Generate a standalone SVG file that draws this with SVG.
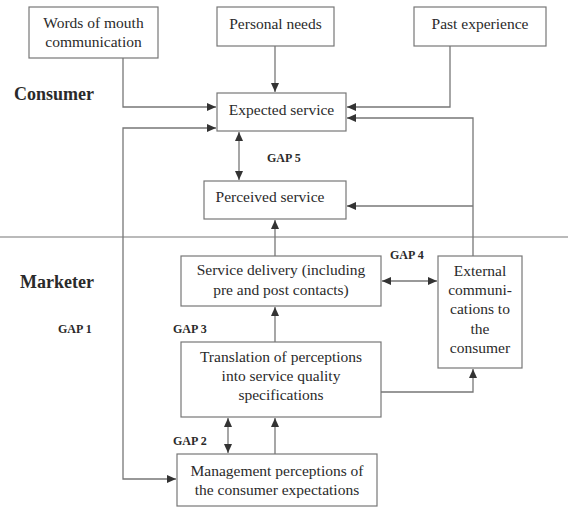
<svg xmlns="http://www.w3.org/2000/svg" width="568" height="514" viewBox="0 0 568 514">
<style>
.box{fill:#fff;stroke:#777;stroke-width:1.2}
.t{font-family:"Liberation Serif","Times New Roman",serif;font-size:15.5px;fill:#2a2a2a;text-anchor:middle}
.h{font-family:"Liberation Serif","Times New Roman",serif;font-size:18px;font-weight:bold;fill:#2a2a2a}
.g{font-family:"Liberation Serif","Times New Roman",serif;font-size:12px;font-weight:bold;fill:#2a2a2a}
.c{fill:none;stroke:#777;stroke-width:1.3}
</style>
<defs>
<marker id="ah" markerUnits="userSpaceOnUse" markerWidth="10" markerHeight="10" refX="9" refY="4" orient="auto-start-reverse"><path d="M0,0 L9,4 L0,8 z" fill="#333"/></marker>
</defs>
<rect width="568" height="514" fill="#fff"/>
<line x1="0" y1="237" x2="568" y2="237" stroke="#777" stroke-width="1.2"/>
<text class="h" x="14" y="100">Consumer</text>
<text class="h" x="20" y="288">Marketer</text>
<g id="connectors">
<polyline class="c" points="123,58 123,107 216,107" marker-end="url(#ah)"/>
<line class="c" x1="275" y1="46" x2="275" y2="92" marker-end="url(#ah)"/>
<polyline class="c" points="450,46 450,107 347,107" marker-end="url(#ah)"/>
<polyline class="c" points="473,256 473,118 347,118" marker-end="url(#ah)"/>
<line class="c" x1="473" y1="206" x2="347" y2="206" marker-end="url(#ah)"/>
<polyline class="c" points="216,128 123,128 123,479 176,479" marker-start="url(#ah)" marker-end="url(#ah)"/>
<line class="c" x1="239" y1="132" x2="239" y2="180" marker-start="url(#ah)" marker-end="url(#ah)"/>
<line class="c" x1="275" y1="256" x2="275" y2="220" marker-end="url(#ah)"/>
<line class="c" x1="275" y1="342" x2="275" y2="307" marker-end="url(#ah)"/>
<line class="c" x1="382" y1="281" x2="437" y2="281" marker-start="url(#ah)" marker-end="url(#ah)"/>
<polyline class="c" points="381,392 473,392 473,369" marker-end="url(#ah)"/>
<line class="c" x1="228" y1="418" x2="228" y2="453" marker-start="url(#ah)" marker-end="url(#ah)"/>
<line class="c" x1="275" y1="454" x2="275" y2="418" marker-end="url(#ah)"/>
</g>
<g id="words"><rect class="box" x="29" y="7" width="129" height="51"/><text class="t" x="93.5" y="28">Words of mouth</text><text class="t" x="93.5" y="47">communication</text></g>
<g id="needs"><rect class="box" x="217" y="7" width="117" height="39"/><text class="t" x="275.5" y="29">Personal needs</text></g>
<g id="past"><rect class="box" x="414" y="7" width="132" height="39"/><text class="t" x="480" y="29">Past experience</text></g>
<g id="expected"><rect class="box" x="217" y="93" width="129" height="38"/><text class="t" x="281.5" y="115">Expected service</text></g>
<g id="perceived"><rect class="box" x="204" y="181" width="142" height="38"/><text class="t" x="270" y="202">Perceived service</text></g>
<g id="delivery"><rect class="box" x="181" y="256" width="200" height="50"/><text class="t" x="281" y="275">Service delivery (including</text><text class="t" x="281" y="295">pre and post contacts)</text></g>
<g id="external"><rect class="box" x="438" y="256" width="84" height="112"/><text class="t" x="480" y="276">External</text><text class="t" x="480" y="295">communi-</text><text class="t" x="480" y="314">cations to</text><text class="t" x="480" y="334">the</text><text class="t" x="480" y="353">consumer</text></g>
<g id="translation"><rect class="box" x="181" y="342" width="200" height="75"/><text class="t" x="281" y="362">Translation of perceptions</text><text class="t" x="281" y="381">into service quality</text><text class="t" x="281" y="400">specifications</text></g>
<g id="management"><rect class="box" x="177" y="454" width="200" height="52"/><text class="t" x="277" y="476">Management perceptions of</text><text class="t" x="277" y="495">the consumer expectations</text></g>
<text class="g" x="267" y="162">GAP 5</text>
<text class="g" x="390" y="259">GAP 4</text>
<text class="g" x="58" y="333">GAP 1</text>
<text class="g" x="173" y="333">GAP 3</text>
<text class="g" x="173" y="445">GAP 2</text>
</svg>
